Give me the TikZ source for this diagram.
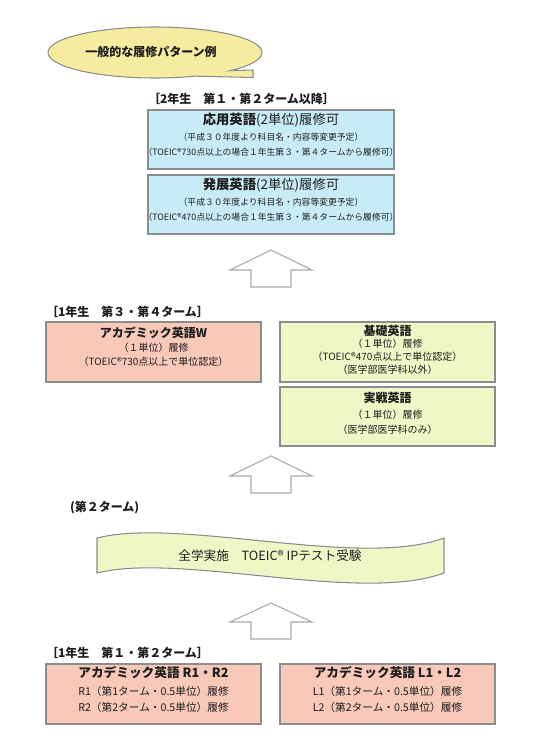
\documentclass[tikz,border=0pt]{standalone}
\usepackage{fontspec}
\setmainfont{Noto Sans CJK JP}
\usetikzlibrary{fit}
\definecolor{blueF}{RGB}{200,235,248}
\definecolor{pinkF}{RGB}{248,200,185}
\definecolor{greenF}{RGB}{238,247,198}
\definecolor{yellowF}{RGB}{245,236,160}
\definecolor{edgeC}{RGB}{140,140,140}
\definecolor{arrowC}{RGB}{170,170,170}
\definecolor{txtC}{RGB}{30,30,30}
\newcommand\fsz[1]{\fontsize{#1}{#1}\selectfont}
\begin{document}
\begin{tikzpicture}[x=0.75pt,y=-0.75pt,
  every node/.style={inner sep=0pt,outer sep=0pt,text=txtC},
  boxbase/.style={draw=edgeC,line width=0.9pt,inner sep=0pt},
  bluebox/.style={boxbase,fill=blueF},
  pinkbox/.style={boxbase,fill=pinkF},
  greenbox/.style={boxbase,fill=greenF},
  heading/.style={anchor=west,font=\fsz{9pt}\bfseries},
  ttl/.style={font=\fsz{9pt}\bfseries},
  bttl/.style={font=\fsz{10pt}},
  small/.style={font=\fsz{6.6pt}},
  mid/.style={font=\fsz{7.5pt}},
  low/.style={font=\fsz{8pt}},
  blockarrow/.style={draw=arrowC,line width=0.8pt,fill=white,line join=miter},
  callout/.style={draw=edgeC,line width=0.8pt,fill=yellowF}
]
\useasboundingbox (0,0) rectangle (540,750);

% callout
\draw[callout] plot[domain=-45.5:292,samples=120] ({155+107*cos(\x)},{52.5-25.5*sin(\x)}) -- (253,77.5) -- (253,70) -- cycle;
\node[font=\fsz{9pt}\bfseries] (calltxt) at (151,52) {一般的な履修パターン例};

% year 2
\node[heading] (h2) at (148,99) {［2年生　第１・第２ターム以降］};
\node[bluebox,fit={(148,110) (394,169)}] (oyo) {};
\node[bttl] (oyo1) at (271,120) {\textbf{応用英語}(2単位)履修可};
\node[small] (oyo2) at (271,137) {（平成３０年度より科目名・内容等変更予定）};
\node[small] (oyo3) at (271,152) {（TOEIC®730点以上の場合１年生第３・第４タームから履修可）};
\node[bluebox,fit={(148,175) (394,234)}] (hat) {};
\node[bttl] (hat1) at (271,185) {\textbf{発展英語}(2単位)履修可};
\node[small] (hat2) at (271,202) {（平成３０年度より科目名・内容等変更予定）};
\node[small] (hat3) at (271,217) {（TOEIC®470点以上の場合１年生第３・第４タームから履修可）};

% arrow 1
\draw[blockarrow] (271,250) -- (312,270) -- (291,270) -- (291,287) -- (251,287) -- (251,270) -- (230,270) -- cycle;

% year 1 terms 3-4
\node[heading] (h1b) at (46,312) {［1年生　第３・第４ターム］};
\node[pinkbox,fit={(46,322) (261,382)}] (acw) {};
\node[ttl] (acw1) at (153.5,333) {アカデミック英語W};
\node[mid] (acw2) at (153.5,348) {（１単位）履修};
\node[mid] (acw3) at (153.5,362) {（TOEIC®730点以上で単位認定）};

\node[greenbox,fit={(280,322) (495,382)}] (kis) {};
\node[ttl] (kis1) at (387.5,331) {基礎英語};
\node[mid] (kis2) at (387.5,344) {（１単位）履修};
\node[mid] (kis3) at (387.5,357) {（TOEIC®470点以上で単位認定）};
\node[mid] (kis4) at (387.5,370) {（医学部医学科以外）};

\node[greenbox,fit={(280,387) (495,446)}] (jis) {};
\node[ttl] (jis1) at (387.5,398) {実戦英語};
\node[mid] (jis2) at (387.5,415) {（１単位）履修};
\node[mid] (jis3) at (387.5,430) {（医学部医学科のみ）};

% arrow 2
\draw[blockarrow] (271,456) -- (312,476) -- (291,476) -- (291,493) -- (251,493) -- (251,476) -- (230,476) -- cycle;

% term 2 test
\node[heading] (h2t) at (70,508) {(第２ターム)};
\draw[draw=edgeC,line width=0.8pt,fill=greenF] (97,538) .. controls (180,517) and (360,569) .. (444,538) -- (444,573) .. controls (360,604) and (180,552) .. (97,573) -- cycle;
\node[font=\fsz{9.5pt}] (test) at (270,556) {全学実施　TOEIC® IPテスト受験};

% arrow 3
\draw[blockarrow] (271,603) -- (312,622) -- (291,622) -- (291,639) -- (251,639) -- (251,622) -- (230,622) -- cycle;

% year 1 terms 1-2
\node[heading] (h1a) at (46,653) {［1年生　第１・第２ターム］};
\node[pinkbox,fit={(46,664) (261,724)}] (acr) {};
\node[font=\fsz{9.5pt}\bfseries] (acr1) at (153.5,673) {アカデミック英語 R1・R2};
\node[low] (acr2) at (153.5,691) {R1（第1ターム・0.5単位）履修};
\node[low] (acr3) at (153.5,707) {R2（第2ターム・0.5単位）履修};
\node[pinkbox,fit={(280,664) (495,724)}] (acl) {};
\node[font=\fsz{9.5pt}\bfseries] (acl1) at (387.5,673) {アカデミック英語 L1・L2};
\node[low] (acl2) at (387.5,691) {L1（第1ターム・0.5単位）履修};
\node[low] (acl3) at (387.5,707) {L2（第2ターム・0.5単位）履修};
\end{tikzpicture}
\end{document}
